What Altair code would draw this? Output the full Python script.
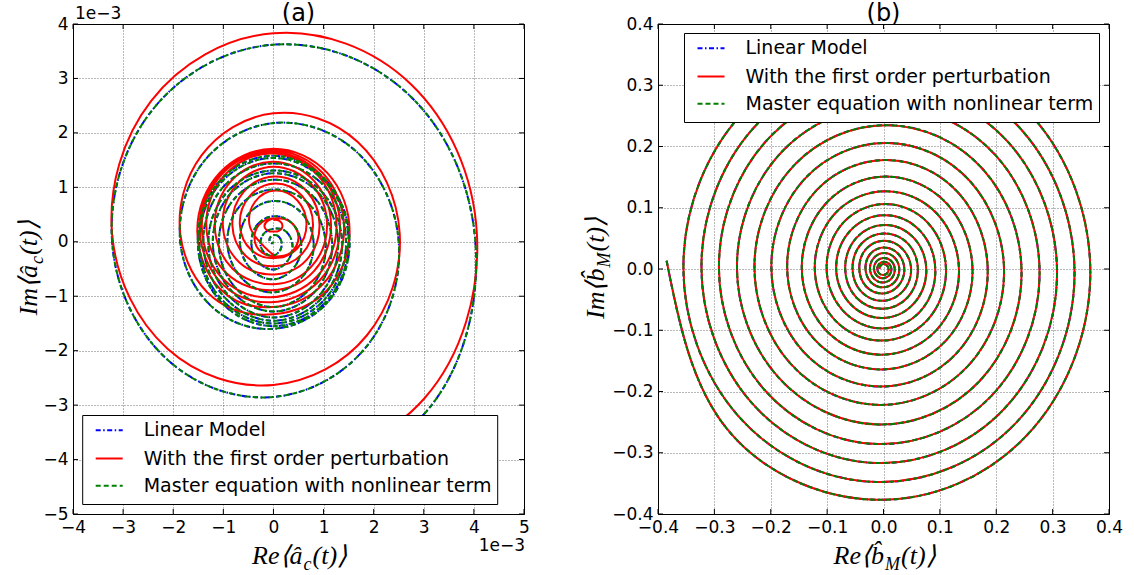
import altair as alt
import pandas as pd

# ---------------------------------------------------------------------------
# Panel (a): trajectory of <a_c(t)> in the complex plane (units of 1e-3).
# The curves are sampled every 45 degrees (counter-clockwise), radius measured
# from the listed centre of each turn.
# ---------------------------------------------------------------------------
A_START_DEG = -90

# linear model (the master-equation curve coincides with it)
A_LIN_R = [
    4.78, 4.36, 4.03, 3.82, 3.62, 3.42, 3.22, 3.03,
    2.85, 2.67, 2.50, 2.34, 2.18, 2.02, 1.86, 1.71,
    1.60, 1.55, 1.52, 1.54, 1.58, 1.55, 1.51, 1.52,
    1.55, 1.52, 1.50, 1.51, 1.54, 1.51, 1.48, 1.48,
    1.50, 1.47, 1.45, 1.44, 1.44, 1.42, 1.40, 1.41,
    1.45, 1.41, 1.37, 1.33, 1.31, 1.30, 1.30, 1.33,
    1.39, 1.34, 1.29, 1.27, 1.26, 1.23, 1.21, 1.23,
    1.28, 1.23, 1.17, 1.15, 1.14, 1.11, 1.09, 1.13,
    1.20, 1.12, 1.04, 0.99, 0.96, 0.94, 0.92, 0.92,
    0.93, 0.86, 0.80, 0.77, 0.75, 0.71, 0.67, 0.67,
    0.69, 0.62, 0.55, 0.50, 0.47, 0.45, 0.44, 0.47,
    0.51, 0.44, 0.37, 0.30, 0.24, 0.24, 0.26, 0.27,
    0.25, 0.20, 0.16, 0.14, 0.12, 0.10, 0.07, 0.04, 0.0,
]
A_LIN_CENTER = (0.0, 0.0)

# first-order perturbation: outer spiral, then turns with drifting centres
A_PERT_OUTER_R = [4.62, 4.27, 4.06, 3.88, 3.68, 3.45, 3.22, 2.99,
                  2.78, 2.64, 2.52, 2.38, 2.21, 2.03, 1.86, 1.68]
A_PERT_OUTER_CENTER = (0.0, 0.15)
A_PERT_TURN_CENTERS = [
    (0.00, 0.19), (-0.03, 0.24), (-0.05, 0.27), (-0.06, 0.30), (-0.03, 0.29),
    (0.00, 0.30), (0.02, 0.30), (0.03, 0.31), (0.04, 0.32), (0.06, 0.08),
    (0.00, 0.295),
]
A_PERT_TURN_R = [
    [1.52, 1.52, 1.52, 1.52, 1.52, 1.52, 1.52, 1.50],
    [1.44, 1.44, 1.44, 1.44, 1.44, 1.44, 1.44, 1.42],
    [1.38, 1.38, 1.38, 1.38, 1.38, 1.38, 1.38, 1.35],
    [1.32, 1.32, 1.32, 1.32, 1.32, 1.30, 1.28, 1.24],
    [1.18, 1.18, 1.18, 1.18, 1.18, 1.16, 1.14, 1.11],
    [1.08, 1.07, 1.07, 1.07, 1.08, 1.05, 1.01, 0.96],
    [0.90, 0.90, 0.90, 0.90, 0.90, 0.87, 0.84, 0.80],
    [0.76, 0.76, 0.76, 0.76, 0.76, 0.73, 0.70, 0.66],
    [0.62, 0.62, 0.62, 0.62, 0.62, 0.58, 0.52, 0.45],
    [0.35, 0.40, 0.44, 0.40, 0.35, 0.40, 0.44, 0.40, 0.35, 0.40, 0.44, 0.40, 0.35],
    [0.14, 0.18, 0.14, 0.105, 0.14, 0.18, 0.14, 0.105],
]

A_X_TICKS = [-4, -3, -2, -1, 0, 1, 2, 3, 4, 5]
A_Y_TICKS = [-5, -4, -3, -2, -1, 0, 1, 2, 3, 4]

# ---------------------------------------------------------------------------
# Panel (b): trajectory of <b_M(t)>; all three models coincide.
# ---------------------------------------------------------------------------
B_START_DEG = 178
B_R = [
    0.385, 0.381, 0.377, 0.372, 0.367, 0.363, 0.359, 0.357,
    0.355, 0.352, 0.348, 0.344, 0.339, 0.334, 0.329, 0.326,
    0.323, 0.320, 0.317, 0.313, 0.308, 0.303, 0.297, 0.295,
    0.292, 0.289, 0.286, 0.282, 0.277, 0.272, 0.266, 0.263,
    0.260, 0.257, 0.254, 0.250, 0.245, 0.240, 0.235, 0.232,
    0.229, 0.226, 0.222, 0.218, 0.214, 0.210, 0.206, 0.203,
    0.199, 0.196, 0.192, 0.189, 0.185, 0.182, 0.178, 0.175,
    0.171, 0.168, 0.164, 0.161, 0.158, 0.155, 0.151, 0.148,
    0.145, 0.143, 0.140, 0.137, 0.134, 0.131, 0.127, 0.125,
    0.122, 0.120, 0.117, 0.114, 0.111, 0.109, 0.106, 0.104,
    0.101, 0.099, 0.097, 0.095, 0.092, 0.090, 0.088, 0.086,
    0.084, 0.082, 0.080, 0.078, 0.076, 0.074, 0.072, 0.070,
    0.068, 0.067, 0.065, 0.063, 0.061, 0.060, 0.058, 0.057,
    0.055, 0.054, 0.052, 0.050, 0.049, 0.047, 0.046, 0.045,
    0.043, 0.042, 0.040, 0.038, 0.037, 0.036, 0.035, 0.034,
    0.032, 0.031, 0.030, 0.029, 0.028, 0.027, 0.026, 0.025,
    0.024, 0.023, 0.022, 0.021, 0.020, 0.019, 0.018, 0.0175,
    0.017, 0.016, 0.015, 0.0145, 0.014, 0.013, 0.012, 0.0115,
    0.011, 0.0105, 0.010, 0.0095, 0.009, 0.0085, 0.008, 0.0075,
    0.007,
]
B_CENTER = (0.0, 0.0)
B_TICKS = [-0.4, -0.3, -0.2, -0.1, 0.0, 0.1, 0.2, 0.3, 0.4]

# legend entries: label, colour, dash pattern (None = solid)
SERIES = [
    ("Linear Model", "#0000ff", [5, 2.5, 1.5, 2.5]),
    ("With the first order perturbation", "#ff0000", None),
    ("Master equation with nonlinear term", "#008000", [5, 3]),
]

W, H = 451, 490
ONE = pd.DataFrame({"k": [0]})


def polar_frame(start_deg, radii, cxs, cys):
    n = len(radii)
    return pd.DataFrame({
        "i": list(range(n)),
        "deg": [start_deg + 45 * k for k in range(n)],
        "r": radii, "cx": cxs, "cy": cys,
    })


def uniform_frame(start_deg, radii, center):
    n = len(radii)
    return polar_frame(start_deg, radii, [center[0]] * n, [center[1]] * n)


def pert_frame():
    radii = list(A_PERT_OUTER_R)
    cxs = [A_PERT_OUTER_CENTER[0]] * len(A_PERT_OUTER_R)
    cys = [A_PERT_OUTER_CENTER[1]] * len(A_PERT_OUTER_R)
    for (cx, cy), turn in zip(A_PERT_TURN_CENTERS, A_PERT_TURN_R):
        radii += turn
        cxs += [cx] * len(turn)
        cys += [cy] * len(turn)
    return polar_frame(A_START_DEG, radii, cxs, cys)


def make_axis(values, fmt):
    return alt.Axis(
        values=values, format=fmt, title=None, grid=True, ticks=False, domain=False,
        labelFont="DejaVu Sans", labelFontSize=17, labelColor="black",
        labelPadding=5, labelFlush=False, labelOverlap=False,
        gridColor="black", gridDash=[1, 2], gridWidth=0.7, gridOpacity=0.8,
    )


def curve(df, color, dash, xs, ys, ax, ay):
    kw = dict(color=color, strokeWidth=2, interpolate="natural", clip=True)
    if dash:
        kw["strokeDash"] = dash
    return alt.Chart(df).transform_calculate(
        px="datum.cx + datum.r * cos(datum.deg * PI / 180)",
        py="datum.cy + datum.r * sin(datum.deg * PI / 180)",
    ).mark_line(**kw).encode(
        x=alt.X("px:Q", scale=xs, axis=ax),
        y=alt.Y("py:Q", scale=ys, axis=ay),
        order=alt.Order("i:Q"),
    )


def inner_ticks(xvals, yvals, xs, ys, ax, ay):
    xdf = pd.DataFrame({"v": xvals})
    ydf = pd.DataFrame({"v": yvals})
    rule = dict(color="black", strokeWidth=1)
    return [
        alt.Chart(xdf).mark_rule(**rule).encode(
            x=alt.X("v:Q", scale=xs, axis=ax), y=alt.value(H), y2=alt.value(H - 5)),
        alt.Chart(xdf).mark_rule(**rule).encode(
            x=alt.X("v:Q", scale=xs, axis=ax), y=alt.value(0), y2=alt.value(5)),
        alt.Chart(ydf).mark_rule(**rule).encode(
            y=alt.Y("v:Q", scale=ys, axis=ay), x=alt.value(0), x2=alt.value(5)),
        alt.Chart(ydf).mark_rule(**rule).encode(
            y=alt.Y("v:Q", scale=ys, axis=ay), x=alt.value(W), x2=alt.value(W - 5)),
    ]


def legend(x0, y0):
    layers = [alt.Chart(ONE).mark_rect(fill="white", stroke="black", strokeWidth=1).encode(
        x=alt.value(x0), x2=alt.value(x0 + 415), y=alt.value(y0), y2=alt.value(y0 + 89))]
    for k, (name, color, dash) in enumerate(SERIES):
        yy = y0 + [14.7, 43.0, 70.3][k]
        kw = dict(color=color, strokeWidth=2)
        if dash:
            kw["strokeDash"] = dash
        layers.append(alt.Chart(ONE).mark_rule(**kw).encode(
            x=alt.value(x0 + 13), x2=alt.value(x0 + 40), y=alt.value(yy)))
        layers.append(alt.Chart(ONE).mark_text(
            align="left", baseline="middle", font="DejaVu Sans", fontSize=19, color="black"
        ).encode(x=alt.value(x0 + 61), y=alt.value(yy), text=alt.value(name)))
    return layers


def plain_text(txt, x, y, size, align="center"):
    return alt.Chart(ONE).mark_text(
        align=align, baseline="alphabetic", font="DejaVu Sans", fontSize=size, color="black"
    ).encode(x=alt.value(x), y=alt.value(y), text=alt.value(txt))


def math_title(head, sub, tail, x, y, angle=0, sub_w=8):
    base = dict(font="Liberation Serif", fontStyle="italic", color="black", baseline="alphabetic")
    if angle:
        base["angle"] = angle
    total = 51 + sub_w + 35
    start = -total / 2
    parts = [
        (head, "right", 26, start + 51, 0),
        (sub, "left", 18, start + 52, 6),
        (tail, "left", 26, start + 52 + sub_w + 1, 0),
    ]
    out = []
    for txt, align, size, dx, dy in parts:
        mk = dict(base, align=align, fontSize=size, dx=dx)
        if dy:
            mk["dy"] = dy
        out.append(alt.Chart(ONE).mark_text(**mk).encode(
            x=alt.value(x), y=alt.value(y), text=alt.value(txt)))
    return out


# ---------------- panel (a) ----------------
xs_a = alt.Scale(domain=[-4, 5], nice=False, zero=False)
ys_a = alt.Scale(domain=[-5, 4], nice=False, zero=False)
ax_a = make_axis(A_X_TICKS, "d")
ay_a = make_axis(A_Y_TICKS, "d")

lin_a = uniform_frame(A_START_DEG, A_LIN_R, A_LIN_CENTER)
pert_a = pert_frame()

layers_a = inner_ticks(A_X_TICKS, A_Y_TICKS, xs_a, ys_a, ax_a, ay_a)
layers_a += [
    curve(lin_a, SERIES[0][1], SERIES[0][2], xs_a, ys_a, ax_a, ay_a),
    curve(pert_a, SERIES[1][1], SERIES[1][2], xs_a, ys_a, ax_a, ay_a),
    curve(lin_a, SERIES[2][1], SERIES[2][2], xs_a, ys_a, ax_a, ay_a),
]
layers_a += legend(9.7, H - 98.5)
layers_a += [
    plain_text("(a)", W / 2, -3, 24),
    plain_text("1e\u22123", 2, -5, 17, align="left"),
    plain_text("1e\u22123", W + 1, H + 37, 17, align="right"),
]
layers_a += math_title("Re\u27e8\u00e2", "c", "(t)\u27e9", W / 2, H + 50)
layers_a += math_title("Im\u27e8\u00e2", "c", "(t)\u27e9", -36, H / 2, angle=270)
panel_a = alt.layer(*layers_a).properties(width=W, height=H)

# ---------------- panel (b) ----------------
xs_b = alt.Scale(domain=[-0.4, 0.4], nice=False, zero=False)
ys_b = alt.Scale(domain=[-0.4, 0.4], nice=False, zero=False)
ax_b = make_axis(B_TICKS, ".1f")
ay_b = make_axis(B_TICKS, ".1f")

spiral_b = uniform_frame(B_START_DEG, B_R, B_CENTER)

layers_b = inner_ticks(B_TICKS, B_TICKS, xs_b, ys_b, ax_b, ay_b)
layers_b += [curve(spiral_b, c, d, xs_b, ys_b, ax_b, ay_b) for _, c, d in SERIES]
layers_b += legend(W - 424.5, 9.5)
layers_b += [plain_text("(b)", W / 2, -3, 24)]
layers_b += math_title("Re\u27e8b\u0302", "M", "(t)\u27e9", W / 2, H + 50, sub_w=15)
layers_b += math_title("Im\u27e8b\u0302", "M", "(t)\u27e9", -54, H / 2, angle=270, sub_w=15)
panel_b = alt.layer(*layers_b).properties(width=W, height=H)

chart = alt.hconcat(panel_a, panel_b, spacing=134, bounds="flush").properties(
    padding={"left": 15, "top": 1, "right": 5, "bottom": 5},
    background="white",
).configure_view(stroke="black", strokeWidth=1)

chart.save("out.html", embed_options={"renderer": "svg", "actions": False})
